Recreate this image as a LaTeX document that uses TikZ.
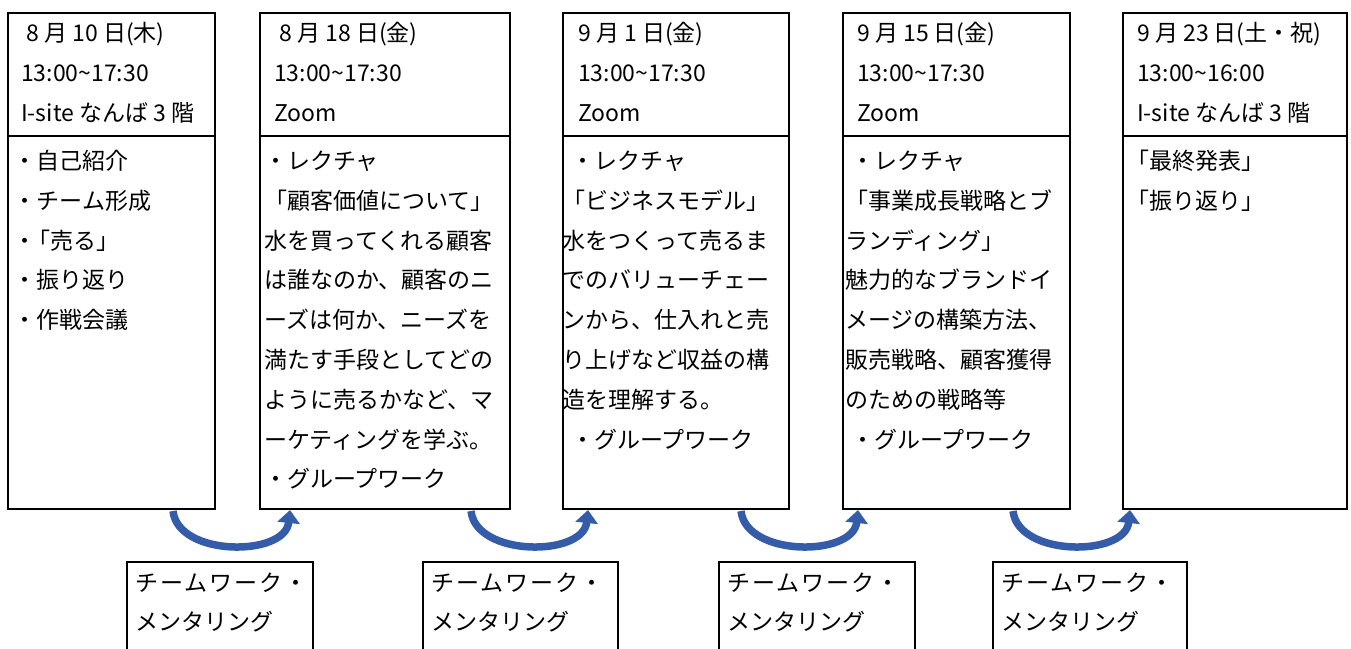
\documentclass[tikz,border=0pt]{standalone}
\usepackage{fontspec}
\setmainfont{Noto Sans CJK JP}
\usepackage{tikz}
\usetikzlibrary{arrows.meta}
\definecolor{arrowblue}{RGB}{52,92,168}

\begin{document}
\begin{tikzpicture}[x=1pt,y=-1pt,
    box/.style={line width=2pt},
    txt/.style={anchor=base west,inner sep=0pt,font=\fontsize{23}{27}\selectfont},
    turn/.style={arrowblue,line width=7.5pt,-{Triangle[length=13pt,width=22pt]}}]
    \useasboundingbox (0,0) rectangle (1351,648);
    % day boxes
    \foreach \l/\r in {7.5/215,260/510,563/788.5,843/1070,1122.5/1347}{
        \draw[box] (\l,12.5) rectangle (\r,508.5);
        \draw[box] (\l,135.5) -- (\r,135.5);
    }
    % headers
    \foreach \t [count=\i] in {~8 月 10 日(木),13:00\textasciitilde 17:30,I-site なんば 3 階}
        \node[txt] (h1-\i) at (21,{1+40*\i}) {\t};
    \foreach \t [count=\i] in {~8 月 18 日(金),13:00\textasciitilde 17:30,Zoom}
        \node[txt] (h2-\i) at (274,{1+40*\i}) {\t};
    \foreach \t [count=\i] in {9 月 1 日(金),13:00\textasciitilde 17:30,Zoom}
        \node[txt] (h3-\i) at (578,{1+40*\i}) {\t};
    \foreach \t [count=\i] in {9 月 15 日(金),13:00\textasciitilde 17:30,Zoom}
        \node[txt] (h4-\i) at (857,{1+40*\i}) {\t};
    \foreach \t [count=\i] in {9 月 23 日(土・祝),13:00\textasciitilde 16:00,I-site なんば 3 階}
        \node[txt] (h5-\i) at (1137,{1+40*\i}) {\t};
    % contents
    \foreach \t [count=\i] in {・自己紹介,・チーム形成,・\kern-9pt「売る」,・振り返り,・作戦会議}
        \node[txt] (b1-\i) at (13.5,{129.7+39.8*\i}) {\t};
    \foreach \t [count=\i] in {・レクチャ,「顧客価値について」,水を買ってくれる顧客,
        は誰なのか、顧客のニ,ーズは何か、ニーズを,満たす手段としてどの,
        ように売るかなど、マ,ーケティングを学ぶ。,・グループワーク}
        \node[txt] (b2-\i) at (264,{129.7+39.8*\i}) {\t};
    \foreach \t [count=\i] in {\kern9pt・レクチャ,「ビジネスモデル」,水をつくって売るま,
        でのバリューチェー,ンから、仕入れと売,り上げなど収益の構,
        造を理解する。,\kern9pt・グループワーク}
        \node[txt] (b3-\i) at (562,{129.7+39.8*\i}) {\t};
    \foreach \t [count=\i] in {\kern6pt・レクチャ,「事業成長戦略とブ,ランディング」,
        魅力的なブランドイ,メージの構築方法、,販売戦略、顧客獲得,
        のための戦略等,\kern6pt・グループワーク}
        \node[txt] (b4-\i) at (845,{129.7+39.8*\i}) {\t};
    \foreach \t [count=\i] in {「最終発表」,「振り返り」}
        \node[txt] (b5-\i) at (1126,{129.7+39.8*\i}) {\t};
    % teamwork boxes
    \foreach \l/\r [count=\n] in {127/313,423/618,719/915,993/1187}{
        \draw[box] (\l,652) -- (\l,562) -- (\r,562) -- (\r,652);
        \node[txt] (m\n-1) at (\l+8,591) {\addfontfeature{LetterSpace=9}チームワーク・};
        \node[txt] (m\n-2) at (\l+8,630) {メンタリング};
    }
    % arrows
    \foreach \s [count=\n] in {0,298,568,840}{
        \coordinate (t\n) at (173+\s,511);
        \coordinate (p\n) at (290+\s,510);
        \draw[turn] (t\n) .. controls +(5,46) and +(-5,47) .. (p\n);
    }
\end{tikzpicture}
\end{document}
